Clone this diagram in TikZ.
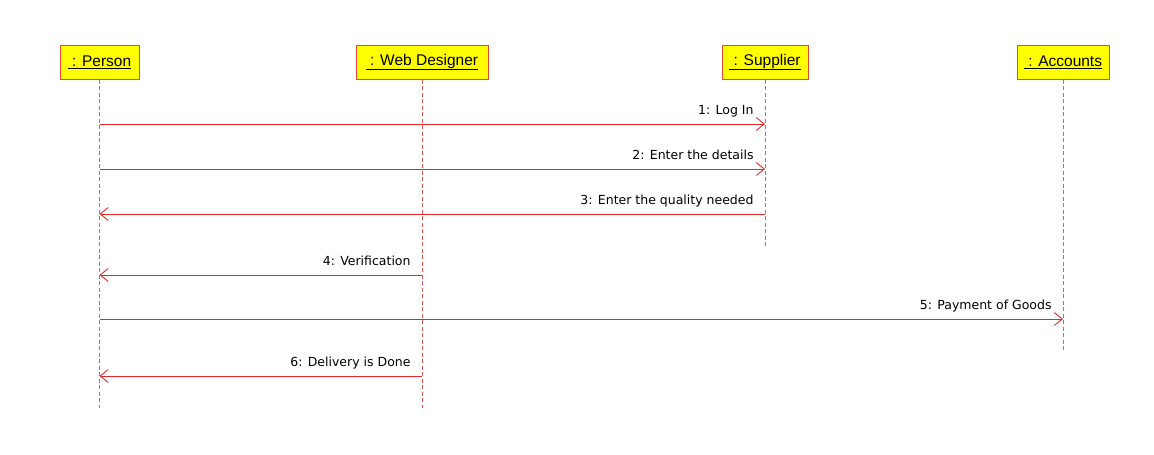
\documentclass[tikz,border=0pt]{standalone}
\usepackage{fontspec}
\setmainfont{Liberation Sans}
\newfontfamily\msgfont{DejaVu Sans}
\usetikzlibrary{arrows.meta}
\definecolor{lnred}{RGB}{228,40,40}
\definecolor{bxred}{RGB}{232,70,50}
\definecolor{llred}{RGB}{232,90,90}
\definecolor{bxyel}{RGB}{255,255,0}
\tikzset{
  obj/.style={draw=bxred, line width=1pt, fill=bxyel, minimum height=34pt, inner sep=0pt,
    font=\fontsize{15.5}{18}\selectfont},
  lifeline/.style={draw=llred, line width=0.9pt, dash pattern=on 4pt off 2.5pt},
  msg/.style={draw=lnred, line width=0.9pt, -{Straight Barb[length=8pt,width=13pt,line width=0.9pt]}},
  lbl/.style={anchor=base east, inner sep=0pt, font=\msgfont\fontsize{12.5}{15}\selectfont}
}
\begin{document}
\begin{tikzpicture}[x=1pt,y=-1pt]
\useasboundingbox (0,0) rectangle (1154,455);
% objects
\node[obj, minimum width=79pt] (person) at (99.5,62) {\underline{\ : Person}};
\node[obj, minimum width=132pt] (web) at (422,62) {\underline{\ : Web Designer}};
\node[obj, minimum width=86pt] (sup) at (765,62) {\underline{\ : Supplier}};
\node[obj, minimum width=92pt] (acc) at (1063,62) {\underline{\ : Accounts}};
% lifeline ends
\coordinate (personEnd) at (99.5,408);
\coordinate (webEnd) at (422,408);
\coordinate (supEnd) at (765,246);
\coordinate (accEnd) at (1063,350);
\draw[lifeline] (person.south) -- (personEnd);
\draw[lifeline] (web.south) -- (webEnd);
\draw[lifeline] (sup.south) -- (supEnd);
\draw[lifeline] (acc.south) -- (accEnd);
% message rows
\coordinate (m1) at (0,124);
\coordinate (m2) at (0,169);
\coordinate (m3) at (0,214);
\coordinate (m4) at (0,275);
\coordinate (m5) at (0,319);
\coordinate (m6) at (0,376);
\draw[msg] (person |- m1) -- (sup |- m1) node[lbl, pos=1, xshift=-11pt, yshift=10pt] {1: Log In};
\draw[msg] (person |- m2) -- (sup |- m2) node[lbl, pos=1, xshift=-11pt, yshift=10pt] {2: Enter the details};
\draw[msg] (sup |- m3) -- (person |- m3) node[lbl, pos=0, xshift=-11pt, yshift=10pt] {3: Enter the quality needed};
\draw[msg] (web |- m4) -- (person |- m4) node[lbl, pos=0, xshift=-11pt, yshift=10pt] {4: Verification};
\draw[msg] (person |- m5) -- (acc |- m5) node[lbl, pos=1, xshift=-11pt, yshift=10pt] {5: Payment of Goods};
\draw[msg] (web |- m6) -- (person |- m6) node[lbl, pos=0, xshift=-11pt, yshift=10pt] {6: Delivery is Done};
\end{tikzpicture}
\end{document}
